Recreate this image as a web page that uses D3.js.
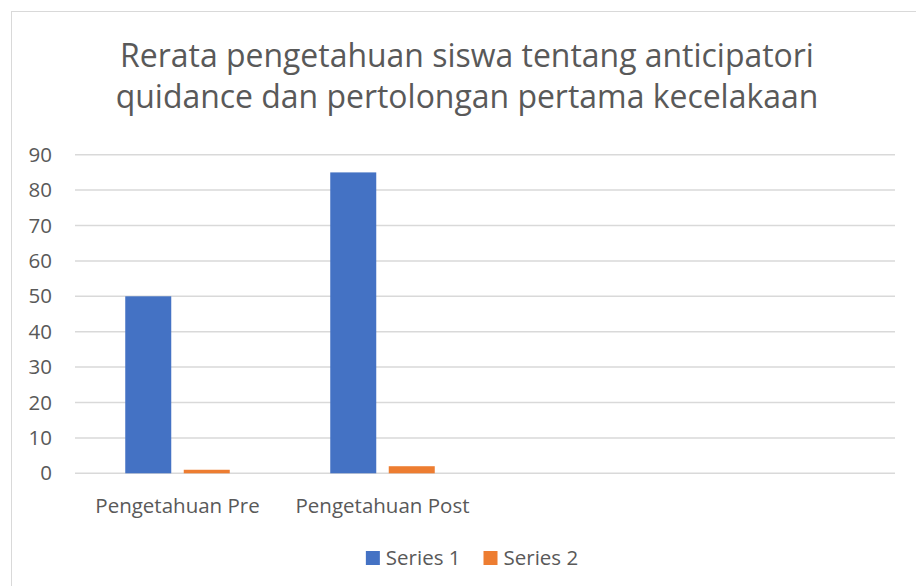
<!DOCTYPE html>
<html>
<head>
<meta charset="utf-8">
<script src="https://cdn.jsdelivr.net/npm/d3@7"></script>
<style>
  html, body { margin: 0; padding: 0; background: #fff; }
  svg { display: block; }
  text { font-family: "Open Sans", "Noto Sans", sans-serif; fill: #595959; }
</style>
</head>
<body>
<svg id="chart" width="916" height="586"></svg>
<script>
// ---- data ----
const titleLines = ["Rerata pengetahuan siswa tentang anticipatori", "quidance dan pertolongan pertama kecelakaan"];
const categories = ["Pengetahuan Pre", "Pengetahuan Post", "", ""];
const seriesNames = ["Series 1", "Series 2"];
const series1 = [50, 85, null, null];
const series2 = [1, 2, null, null];
const yTicks = [0, 10, 20, 30, 40, 50, 60, 70, 80, 90];
const colors = ["#4472C4", "#ED7D31"];

const svg = d3.select("#chart");
const W = 916, H = 586;
const plot = { left: 75, right: 895, top: 154.7, bottom: 473.3 };

// chart border
svg.append("rect")
  .attr("x", 11.5).attr("y", 11.5)
  .attr("width", W + 10).attr("height", H + 10)
  .attr("fill", "#fff").attr("stroke", "#D9D9D9").attr("stroke-width", 1);

// title
const titleCenter = 467;
const titleBaselines = [66.5, 107.5];
const titleTarget = 703;
const tg = svg.append("g");
const tNodes = tg.selectAll("text").data(titleLines).join("text")
  .attr("x", titleCenter)
  .attr("y", (d, i) => titleBaselines[i])
  .attr("text-anchor", "middle")
  .style("font-size", "31px")
  .text(d => d);
// fit title font-size to target width
let maxW = 0;
tNodes.each(function () { maxW = Math.max(maxW, this.getComputedTextLength()); });
const fs = 31 * titleTarget / maxW;
tNodes.style("font-size", fs + "px");

// scales
const y = d3.scaleLinear().domain([0, 90]).range([plot.bottom, plot.top]);
const x0 = d3.scaleBand().domain(d3.range(categories.length)).range([plot.left, plot.right]).padding(0);
const x1 = d3.scaleBand().domain(seriesNames).range([0, x0.bandwidth()])
  .paddingInner(0.2137).paddingOuter(0.859);

// gridlines
svg.append("g").selectAll("line").data(yTicks).join("line")
  .attr("x1", plot.left).attr("x2", plot.right)
  .attr("y1", d => y(d)).attr("y2", d => y(d))
  .attr("stroke", "#D9D9D9").attr("stroke-width", 1.5);

// y axis labels
const yAxis = d3.axisLeft(y).tickValues(yTicks).tickSize(0).tickPadding(0);
const yg = svg.append("g").attr("transform", `translate(52,0)`).call(yAxis);
yg.select(".domain").remove();
yg.selectAll("text").attr("font-family", null).attr("fill", null)
  .style("font-size", "20.5px").attr("dy", "0.32em");

// bars
const seriesData = [series1, series2];
seriesData.forEach((vals, si) => {
  svg.append("g").selectAll("rect")
    .data(vals.map((v, i) => ({ v, i })).filter(d => d.v != null))
    .join("rect")
    .attr("x", d => x0(d.i) + x1(seriesNames[si]))
    .attr("width", x1.bandwidth())
    .attr("y", d => y(d.v))
    .attr("height", d => y(0) - y(d.v))
    .attr("fill", colors[si]);
});

// x axis labels
const xAxis = d3.axisBottom(x0).tickFormat(i => categories[i]).tickSize(0).tickPadding(0);
const xg = svg.append("g").attr("transform", `translate(0,${plot.bottom})`).call(xAxis);
xg.select(".domain").remove();
xg.selectAll("text").attr("font-family", null).attr("fill", null)
  .attr("dy", null).attr("y", 39.5)
  .style("font-size", "20.5px");

// legend
const legendY = 565;
const lg = svg.append("g");
const items = lg.selectAll("g").data(seriesNames).join("g");
items.append("rect").attr("width", 14).attr("height", 14).attr("y", legendY - 14)
  .attr("fill", (d, i) => colors[i]);
items.append("text").attr("x", 20).attr("y", legendY)
  .style("font-size", "20.5px").text(d => d);
let widths = [];
items.each(function () { widths.push(20 + d3.select(this).select("text").node().getComputedTextLength()); });
const gap = 23;
const total = d3.sum(widths) + gap * (widths.length - 1);
let cx = 472 - total / 2;
items.attr("transform", (d, i) => {
  const t = `translate(${cx},0)`;
  cx += widths[i] + gap;
  return t;
});
</script>
</body>
</html>
